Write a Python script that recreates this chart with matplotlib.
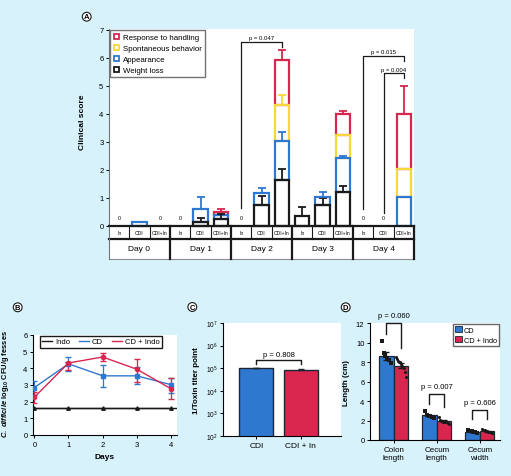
import matplotlib
matplotlib.use('Agg')
import matplotlib.pyplot as plt
import numpy as np
from matplotlib.lines import Line2D
from matplotlib.patches import Patch

plt.rcParams['font.family'] = ['Liberation Sans', 'DejaVu Sans']
plt.rcParams['font.size'] = 5.5
plt.rcParams['axes.linewidth'] = 0.8
plt.rcParams['xtick.major.size'] = 2.5
plt.rcParams['ytick.major.size'] = 2.5
plt.rcParams['xtick.major.width'] = 0.7
plt.rcParams['ytick.major.width'] = 0.7
plt.rcParams['xtick.major.pad'] = 1.5
plt.rcParams['ytick.major.pad'] = 1.5
plt.rcParams['mathtext.fontset'] = 'custom'
plt.rcParams['mathtext.it'] = 'Liberation Sans:italic:bold'
plt.rcParams['mathtext.rm'] = 'Liberation Sans:bold'

W, H = 511, 477
BG = '#d8f2fb'
RED = '#d8264f'
YEL = '#f6d83a'
BLU = '#2f78d0'
BLK = '#1a1a1a'
EDGE = '#1b2735'

# ---- panel A: clinical score (15 bars = 5 days x 3 groups)
days = ['Day 0', 'Day 1', 'Day 2', 'Day 3', 'Day 4']
groups = ['In', 'CDI', 'CDI+In']
weight = [0, 0, 0, 0, 0.14, 0.24, 0, 0.74, 1.62, 0.34, 0.74, 1.20, 0, 0, 0]
weight_err = [0, 0, 0, 0, 0.14, 0.18, 0, 0.33, 0.39, 0.32, 0.24, 0.20, 0, 0, 0]
appear = [0, 0.14, 0, 0, 0.44, 0.14, 0, 0.43, 1.40, 0, 0.28, 1.22, 0, 0, 1.02]
appear_err = [0, 0, 0, 0, 0.44, 0, 0, 0.16, 0.34, 0, 0.18, 0.08, 0, 0, 0]
spont = [0, 0, 0, 0, 0, 0, 0, 0, 1.29, 0, 0, 0.82, 0, 0, 0.99]
spont_err = [0, 0, 0, 0, 0, 0, 0, 0, 0.37, 0, 0, 0, 0, 0, 0]
handling = [0, 0, 0, 0, 0, 0.10, 0, 0, 1.59, 0, 0, 0.76, 0, 0, 1.99]
handling_err = [0, 0, 0, 0, 0, 0.10, 0, 0, 0.38, 0, 0, 0.10, 0, 0, 1.0]
pvals_a = ['p = 0.047', 'p = 0.015', 'p = 0.004']

# ---- panel B: C. difficile counts
days_b = [0, 1, 2, 3, 4]
indo = [1.62, 1.62, 1.62, 1.62, 1.62]
cd = [2.85, 4.27, 3.55, 3.55, 3.02]
cd_lo = [2.42, 3.86, 2.88, 3.08, 2.50]
cd_hi = [3.22, 4.70, 4.22, 4.10, 3.45]
cdi = [2.27, 4.32, 4.68, 3.95, 2.78]
cdi_lo = [1.90, 3.90, 4.45, 3.20, 2.15]
cdi_hi = [2.58, 4.40, 4.90, 4.58, 3.40]

# ---- panel C: toxin titer
toxin_groups = ['CDI', 'CDI + In']
toxin = [1.0e5, 0.87e5]
toxin_err = [0.03e5, 0.05e5]

# ---- panel D: lengths
organs = ['Colon\nlength', 'Cecum\nlength', 'Cecum\nwidth']
len_cd = [8.67, 2.52, 0.86]
len_cd_err = [0.40, 0.10, 0.05]
len_ci = [7.65, 1.93, 0.91]
len_ci_err = [0.25, 0.08, 0.05]
pts_cd = [[10.2, 8.9, 8.6, 8.4, 8.2, 7.9],
          [3.0, 2.6, 2.5, 2.5, 2.4, 2.3],
          [1.0, 0.95, 0.9, 0.85, 0.8, 0.75]]
pts_ci = [[8.5, 8.3, 8.1, 8.0, 7.8, 7.6, 7.4, 7.0, 6.5],
          [2.4, 2.1, 2.0, 1.9, 1.9, 1.8, 1.8, 1.7, 1.6],
          [1.1, 1.05, 1.0, 0.95, 0.9, 0.85, 0.85, 0.8, 0.75]]
pvals_d = ['p = 0.060', 'p = 0.007', 'p = 0.606']


def px_axes(fig, l, t, r, b):
    return fig.add_axes([l / W, 1 - b / H, (r - l) / W, (b - t) / H])


def panel_label(fig, x, y, s):
    fig.text(x / W, 1 - y / H, s, ha='center', va='center', fontsize=5.5,
             fontweight='bold',
             bbox=dict(boxstyle='circle,pad=0.12', fc='white', ec=BLK, lw=0.8))


fig = plt.figure(figsize=(W / 100, H / 100), dpi=100, facecolor=BG)

# =============== A
axA = px_axes(fig, 109, 30, 414, 260)
x = np.arange(15) + 0.5
layers = [(weight, weight_err, BLK), (appear, appear_err, BLU),
          (spont, spont_err, YEL), (handling, handling_err, RED)]
bot = np.zeros(15)
bottoms = []
for vals, errs, c in layers:
    bottoms.append(bot.copy())
    bot = bot + np.array(vals)
totals = bot

for (vals, errs, c), b0 in reversed(list(zip(layers, bottoms))):
    v = np.array(vals)
    m = v > 0
    axA.bar(x[m], v[m], bottom=b0[m], width=0.72, fill=False, edgecolor=c,
            linewidth=1.6, zorder=3)
for (vals, errs, c), b0 in zip(layers, bottoms):
    v = np.array(vals)
    e = np.array(errs)
    me = e > 0
    axA.errorbar(x[me], (b0 + v)[me], yerr=[np.zeros(me.sum()), e[me]], fmt='none',
                 ecolor=c, elinewidth=1.3, capsize=2.8, capthick=1.3, zorder=4)

for i in range(15):
    if totals[i] == 0:
        axA.text(x[i], 0.3, '0', ha='center', va='center', fontsize=3.8)

# table under the axis
row1, row2 = -0.47, -1.19
axA.plot([0, 15], [0, 0], color=BLK, lw=1.6, clip_on=False, zorder=5)
axA.plot([0, 15], [row1, row1], color=BLK, lw=1.6, clip_on=False)
axA.plot([0, 15], [row2, row2], color='0.55', lw=0.8, clip_on=False)
for k in range(1, 15):
    if k % 3:
        axA.plot([k, k], [0, row1], color=BLK, lw=0.8)
for k in range(3, 16, 3):
    axA.plot([k, k], [0, row2], color=BLK, lw=1.6, clip_on=False)
for i, g in enumerate(groups * len(days)):
    axA.text(x[i], row1 / 2, g, ha='center', va='center', fontsize=3.6)
for d, day in enumerate(days):
    axA.text(3 * d + 1.5, (row1 + row2) / 2, day, ha='center', va='center', fontsize=6)

# p-value brackets
axA.plot([6.5, 6.5, 8.5, 8.5], [0.62, 6.56, 6.56, 6.37], color=BLK, lw=0.9)
axA.text(7.5, 6.62, pvals_a[0], ha='center', va='bottom', fontsize=4.3)
axA.plot([12.5, 12.5, 14.5, 14.5], [0.58, 6.07, 6.07, 5.89], color=BLK, lw=0.9)
axA.text(13.5, 6.13, pvals_a[1], ha='center', va='bottom', fontsize=4.3)
axA.plot([13.5, 13.5, 14.5, 14.5], [0.46, 5.44, 5.44, 5.28], color=BLK, lw=0.9)
axA.text(14.0, 5.5, pvals_a[2], ha='center', va='bottom', fontsize=4.3)

axA.set_xlim(0, 15)
axA.set_ylim(-1.19, 7.02)
axA.set_yticks(range(8))
axA.set_xticks([])
for s in ['top', 'right', 'bottom']:
    axA.spines[s].set_visible(False)
axA.spines['left'].set_color('0.45')
axA.set_ylabel('Clinical score', fontweight='bold', fontsize=6)
axA.yaxis.set_label_coords(-0.075, 0.6)

leg_handles = [Line2D([], [], ls='none', marker='s', ms=3.6, mfc='white', mec=c, mew=1.3)
               for c in [RED, YEL, BLU, BLK]]
axA.legend(leg_handles, ['Response to handling', 'Spontaneous behavior', 'Appearance',
                         'Weight loss'],
           loc='upper left', bbox_to_anchor=(0.0, 1.0), fontsize=5.7, frameon=True,
           fancybox=False, edgecolor='0.45', framealpha=1, handlelength=0.8,
           handletextpad=0.5, borderaxespad=0.1, labelspacing=0.45)

# =============== B
axB = px_axes(fig, 33, 336, 177, 436)
axB.axhline(indo[0], color=BLK, lw=1.0, zorder=2)
axB.plot(days_b, indo, color=BLK, lw=1.0, marker='^', ms=2.5, label='Indo', zorder=3)
axB.errorbar(days_b, cd, yerr=[np.subtract(cd, cd_lo), np.subtract(cd_hi, cd)],
             color=BLU, lw=1.0, marker='s', ms=3.2, capsize=2.5, elinewidth=0.9,
             label='CD', zorder=4)
axB.errorbar(days_b, cdi, yerr=[np.subtract(cdi, cdi_lo), np.subtract(cdi_hi, cdi)],
             color=RED, lw=1.0, marker='o', ms=3.0, capsize=2.5, elinewidth=0.9,
             label='CD + Indo', zorder=4)
axB.set_xlim(-0.04, 4.18)
axB.set_ylim(0, 6)
axB.set_xticks(days_b)
axB.set_yticks(range(7))
for s in ['top', 'right']:
    axB.spines[s].set_visible(False)
axB.set_xlabel('Days', fontweight='bold', fontsize=6)
axB.set_ylabel(r'$\it{C.\ difficile}$ log$_{10}$ CFU/g fesses', fontweight='bold',
               fontsize=5.4)
axB.yaxis.set_label_coords(-0.15, 0.52)
lb = [Line2D([], [], color=c, lw=1.0) for c in [BLK, BLU, RED]]
axB.legend(lb, ['Indo', 'CD', 'CD + Indo'], loc='upper left', bbox_to_anchor=(0.04, 1.0),
           ncol=3, fontsize=5.5, fancybox=False, edgecolor=BLK, framealpha=1,
           handlelength=1.3, handletextpad=0.4, columnspacing=1.2, borderaxespad=0.1,
           borderpad=0.3)

# =============== C
axC = px_axes(fig, 223, 324, 341, 437)
xc = np.arange(len(toxin_groups))
axC.bar(xc, toxin, width=0.76, color=[BLU, RED], edgecolor=EDGE, linewidth=1.0)
axC.errorbar(xc, toxin, yerr=[np.zeros(2), toxin_err], fmt='none', ecolor=EDGE,
             elinewidth=0.8, capsize=2.5)
axC.set_yscale('log')
axC.set_ylim(1e2, 1e7)
axC.set_xlim(-0.75, 1.9)
axC.minorticks_off()
axC.set_yticks([1e2, 1e3, 1e4, 1e5, 1e6, 1e7])
axC.set_xticks(xc)
axC.set_xticklabels(toxin_groups, fontsize=6)
axC.tick_params(axis='y', labelsize=4.8)
for s in ['top', 'right']:
    axC.spines[s].set_visible(False)
axC.set_ylabel('1/Toxin titer point', fontweight='bold', fontsize=5.8)
axC.plot([0, 0, 1, 1], [10 ** 5.18, 10 ** 5.37, 10 ** 5.37, 10 ** 5.18], color=BLK, lw=1.0)
axC.text(0.5, 10 ** 5.45, 'p = 0.808', ha='center', va='bottom', fontsize=5.5)

# =============== D
axD = px_axes(fig, 370, 324.3, 500, 441)
xd = np.arange(len(organs))
bw = 0.34
axD.bar(xd - bw / 2, len_cd, width=bw, color=BLU, edgecolor=EDGE, linewidth=0.9, label='CD')
axD.bar(xd + bw / 2, len_ci, width=bw, color=RED, edgecolor=EDGE, linewidth=0.9,
        label='CD + Indo')
axD.errorbar(xd - bw / 2, len_cd, yerr=len_cd_err, fmt='none', ecolor=BLK, elinewidth=0.9,
             capsize=2.2, zorder=4)
axD.errorbar(xd + bw / 2, len_ci, yerr=len_ci_err, fmt='none', ecolor=BLK, elinewidth=0.9,
             capsize=2.2, zorder=4)
for i in range(len(organs)):
    n = len(pts_cd[i])
    axD.scatter(xd[i] - bw / 2 + np.linspace(-0.1, 0.1, n), pts_cd[i], marker='s', s=5,
                color=BLK, zorder=5, linewidths=0)
    n = len(pts_ci[i])
    axD.scatter(xd[i] + bw / 2 + np.linspace(-0.12, 0.12, n), pts_ci[i], marker='o', s=5,
                color=BLK, zorder=5, linewidths=0)
br = [(10.9, 12.05, 9.5, 12.4), (3.7, 4.73, 3.36, 5.15), (2.16, 3.12, 2.16, 3.5)]
for i, (yl, yt, yr, ylab) in enumerate(br):
    axD.plot([xd[i] - bw / 2, xd[i] - bw / 2, xd[i] + bw / 2, xd[i] + bw / 2],
             [yl, yt, yt, yr], color=BLK, lw=1.0, clip_on=False)
    axD.text(xd[i], ylab, pvals_d[i], ha='center', va='bottom', fontsize=5.5, clip_on=False)
axD.set_xlim(-0.55, 2.47)
axD.set_ylim(0, 12)
axD.set_yticks(range(0, 13, 2))
axD.set_xticks(xd)
axD.set_xticklabels(organs, fontsize=5.8)
for s in ['top', 'right']:
    axD.spines[s].set_visible(False)
axD.set_ylabel('Length (cm)', fontweight='bold', fontsize=5.8)
hd = [Patch(facecolor=BLU, edgecolor=EDGE, lw=0.6), Patch(facecolor=RED, edgecolor=EDGE, lw=0.6)]
axD.legend(hd, ['CD', 'CD + Indo'], loc='upper right', bbox_to_anchor=(1.0, 1.0),
           fontsize=5.3, fancybox=False, edgecolor='0.4', framealpha=1, handlelength=0.9,
           handleheight=0.9, handletextpad=0.3, borderaxespad=0.1, labelspacing=0.3,
           borderpad=0.3)

panel_label(fig, 86.7, 17.7, 'A')
panel_label(fig, 17.7, 308.3, 'B')
panel_label(fig, 192.3, 308.0, 'C')
panel_label(fig, 345.7, 308.3, 'D')

fig.savefig('out.png', dpi=100, facecolor=BG)
